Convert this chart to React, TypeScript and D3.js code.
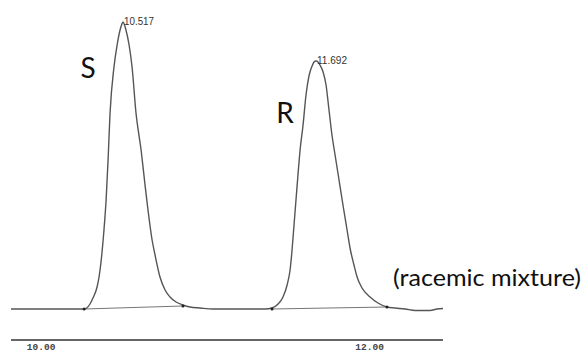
import React from "react";
import * as d3 from "d3";

// Chromatogram trace: retention time (min) and detector response
const traceTime = [
  9.835, 10.134, 10.28, 10.316, 10.334, 10.359, 10.371, 10.383, 10.401, 10.414,
  10.426, 10.438, 10.462, 10.481, 10.499, 10.508, 10.517, 10.526, 10.535, 10.554,
  10.572, 10.596, 10.627, 10.651, 10.669, 10.694, 10.712, 10.742, 10.773, 10.803,
  10.84, 10.882, 10.925, 10.986, 11.065, 11.229, 11.382, 11.424, 11.461, 11.491,
  11.516, 11.534, 11.546, 11.558, 11.57, 11.582, 11.595, 11.613, 11.631, 11.649,
  11.668, 11.68, 11.692, 11.704, 11.716, 11.735, 11.753, 11.771, 11.789, 11.808,
  11.832, 11.856, 11.881, 11.899, 11.923, 11.942, 11.972, 12.021, 12.069, 12.124,
  12.173, 12.234, 12.295, 12.386, 12.428, 12.465,
];
const traceSignal = [
  0, 0, 0, 5, 11, 22, 32, 47, 79, 109,
  149, 196, 242, 264, 279, 284, 287, 284, 279, 264,
  242, 196, 159, 124, 99, 69, 54, 32, 19, 12,
  7, 4, 2, 1, 0, 0, 0, 1, 5, 12,
  24, 39, 59, 84, 109, 134, 159, 184, 214, 233,
  243, 247, 248, 247, 244, 237, 224, 199, 174, 154,
  129, 104, 79, 61, 44, 32, 21, 12, 6, 2,
  1, 0, -1.5, -1.5, 0, 0.5,
];

// Integrated peaks
const peakRT = [10.517, 11.692];
const peakHeight = [287, 248];
const peakStart = [10.28, 11.424];
const peakEnd = [10.882, 12.124];
const peakEndSignal = [3, 2];
const enantiomer = ["S", "R"];
const enantiomerLabelTime = [10.304, 11.503];
const enantiomerLabelSignal = [231, 186];

// Time axis
const tickValues = [10, 12];
const tickLabels = ["10.00", "12.00"];

const caption = "(racemic mixture)";

const W = 585;
const H = 354;

export default function App() {
  const x = d3.scaleLinear().domain([9.835, 12.465]).range([11, 443]);
  const y = d3.scaleLinear().domain([0, 287]).range([309, 22]);

  const pts: [number, number][] = traceTime.map((t, i) => [t, traceSignal[i]]);
  const line = d3
    .line<[number, number]>()
    .x((d) => x(d[0]))
    .y((d) => y(d[1]))
    .curve(d3.curveMonotoneX);

  const axisY = 340;

  return (
    <svg
      width={W}
      height={H}
      style={{ position: "absolute", left: 0, top: 0, background: "#fff" }}
    >
      {/* integration baselines */}
      {peakStart.map((s, i) => (
        <line
          key={"bl" + i}
          x1={x(s)}
          y1={y(0)}
          x2={x(peakEnd[i])}
          y2={y(peakEndSignal[i])}
          stroke="#777"
          strokeWidth={1.1}
        />
      ))}
      <path d={line(pts) || ""} fill="none" stroke="#555" strokeWidth={1.4} />
      {/* peak start / end markers */}
      {peakStart.map((s, i) => (
        <g key={"mk" + i}>
          <circle cx={x(s)} cy={y(0)} r={1.5} fill="#222" />
          <circle cx={x(peakEnd[i])} cy={y(peakEndSignal[i])} r={1.5} fill="#222" />
        </g>
      ))}
      {/* retention time labels */}
      {peakRT.map((t, i) => (
        <text
          key={"rt" + i}
          x={x(t) + 1}
          y={y(peakHeight[i]) + 3}
          fontFamily="'Liberation Sans', Arial, sans-serif"
          fontSize={11}
          fill="#333"
          textLength={30}
          lengthAdjust="spacingAndGlyphs"
        >
          {t.toFixed(3)}
        </text>
      ))}
      {/* enantiomer labels */}
      {enantiomer.map((e, i) => (
        <text
          key={"en" + i}
          x={x(enantiomerLabelTime[i])}
          y={y(enantiomerLabelSignal[i])}
          fontFamily="Lato, 'Open Sans', sans-serif"
          fontSize={28}
          fill="#111"
          textAnchor="middle"
        >
          {e}
        </text>
      ))}
      <text
        x={393}
        y={286}
        fontFamily="Lato, 'Open Sans', sans-serif"
        fontSize={24}
        fill="#111"
        textLength={188}
        lengthAdjust="spacingAndGlyphs"
      >
        {caption}
      </text>
      {/* time axis */}
      <line x1={x.range()[0]} x2={x.range()[1]} y1={axisY} y2={axisY} stroke="#333" strokeWidth={1.5} />
      {tickValues.map((v, i) => (
        <text
          key={"tk" + i}
          x={x(v) + 3}
          y={axisY + 10}
          fontFamily="'Liberation Mono', 'Courier New', monospace"
          fontSize={9.5}
          fontWeight="bold"
          fill="#444"
          textAnchor="middle"
        >
          {tickLabels[i]}
        </text>
      ))}
    </svg>
  );
}
